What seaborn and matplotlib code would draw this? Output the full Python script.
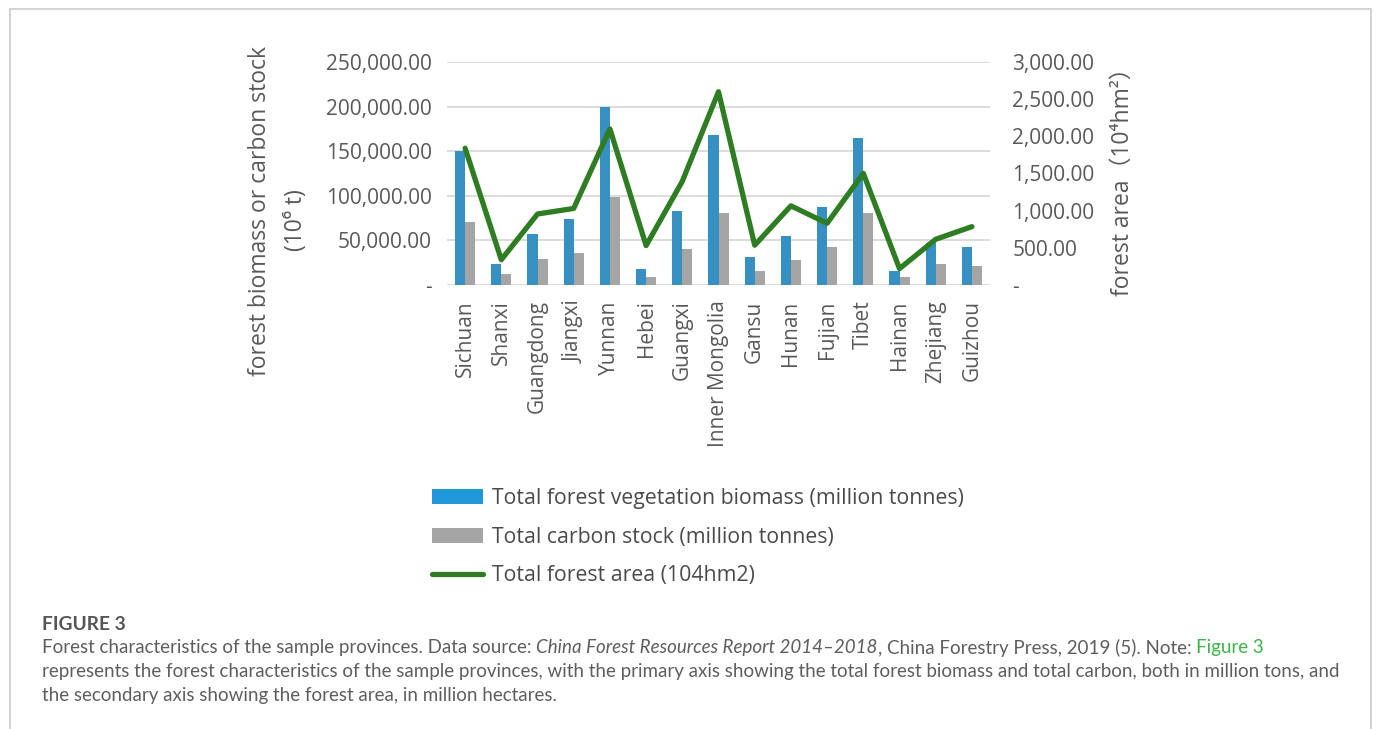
import numpy as np
import pandas as pd
import matplotlib
matplotlib.use("Agg")
import matplotlib.pyplot as plt
import seaborn as sns
from matplotlib.patches import Patch
from matplotlib.lines import Line2D

# ---------------- data ----------------
provinces = ["Sichuan", "Shanxi", "Guangdong", "Jiangxi", "Yunnan", "Hebei", "Guangxi",
             "Inner Mongolia", "Gansu", "Hunan", "Fujian", "Tibet", "Hainan", "Zhejiang", "Guizhou"]
biomass = [150200, 23200, 56800, 73600, 199500, 18300, 82600,
           167800, 31800, 54600, 87300, 164700, 16200, 47000, 43000]
carbon = [71000, 12000, 28800, 35500, 98300, 9300, 40700,
          81000, 15200, 27800, 42300, 81000, 8500, 23200, 21800]
forest_area = [1840, 340, 955, 1030, 2100, 530, 1395,
               2600, 535, 1065, 830, 1502, 220, 615, 785]

series_biomass = "Total forest vegetation biomass (million tonnes)"
series_carbon = "Total carbon stock (million tonnes)"
series_area = "Total forest area (104hm2)"

left_ticks = [0, 50000, 100000, 150000, 200000, 250000]
right_ticks = [0, 500, 1000, 1500, 2000, 2500, 3000]

# ---------------- style ----------------
W, H = 1376, 729
sns.set_style("white")
plt.rcParams["font.family"] = ["Open Sans", "Noto Sans CJK SC", "DejaVu Sans"]

BLUE = "#1f97d8"
GRAY = "#a5a5a5"
GREEN = "#2e7d22"
TXT = "#595959"

fig = plt.figure(figsize=(W / 100, H / 100), dpi=100)
fig.patch.set_facecolor("white")

def fx(px):
    return px / W

def fy(py):
    return 1 - py / H

ax_l, ax_r, ax_t, ax_b = 447, 990, 62, 285
ax = fig.add_axes([fx(ax_l), fy(ax_b), (ax_r - ax_l) / W, (ax_b - ax_t) / H])

df = pd.DataFrame({
    "province": provinces * 2,
    "value": biomass + carbon,
    "series": [series_biomass] * len(provinces) + [series_carbon] * len(provinces),
})
sns.barplot(data=df, x="province", y="value", hue="series",
            hue_order=[series_biomass, series_carbon],
            palette=[BLUE, GRAY], width=0.56, gap=0, linewidth=0,
            legend=False, ax=ax, zorder=2)

ax.set_ylim(0, 250000)
ax.set_xlim(-0.5, len(provinces) - 0.5)
ax.set_yticks(left_ticks)
ax.set_yticklabels(["-" if v == 0 else f"{v:,.2f}" for v in left_ticks])
ax.yaxis.grid(True, color="#d9d9d9", linewidth=1.3, zorder=0)
ax.set_axisbelow(True)
for s in ax.spines.values():
    s.set_visible(False)
ax.set_xlabel("")
ax.set_ylabel("")
ax.tick_params(axis="y", length=0, pad=11, labelsize=15, labelcolor=TXT)
ax.tick_params(axis="x", length=0, pad=11, labelsize=15, labelcolor=TXT)
plt.setp(ax.get_xticklabels(), rotation=90, va="top", ha="center")

ax2 = ax.twinx()
sns.lineplot(x=np.arange(len(provinces)), y=forest_area, ax=ax2, color=GREEN,
             linewidth=3.8, legend=False, sort=False)
ax2.set_ylim(0, 3000)
ax2.set_xlim(-0.5, len(provinces) - 0.5)
ax2.set_yticks(right_ticks)
ax2.set_yticklabels(["-" if v == 0 else f"{v:,.2f}" for v in right_ticks])
ax2.tick_params(axis="y", length=0, pad=16, labelsize=15, labelcolor=TXT)
ax2.set_ylabel("")
for s in ax2.spines.values():
    s.set_visible(False)

# axis titles
fig.text(fx(260), fy(211), "forest biomass or carbon stock", rotation=90,
         ha="center", va="center", fontsize=16.5, color=TXT)
fig.text(fx(296), fy(220), "(10\u2076 t)", rotation=90,
         ha="center", va="center", fontsize=16.5, color=TXT)
fig.text(fx(1123), fy(176), "forest area\uff0810\u2074hm\u00b2\uff09", rotation=90,
         ha="center", va="center", fontsize=16.5, color=TXT)

# legend
handles = [Patch(facecolor=BLUE, edgecolor="none"),
           Patch(facecolor=GRAY, edgecolor="none"),
           Line2D([0], [0], color=GREEN, linewidth=3.8)]
fig.legend(handles, [series_biomass, series_carbon, series_area],
           loc="upper left", bbox_to_anchor=(fx(432), fy(488)),
           frameon=False, fontsize=15.3, handlelength=2.4, handleheight=0.72,
           handletextpad=0.43, labelspacing=0.83, borderpad=0, borderaxespad=0,
           labelcolor="#4a4a4a")

# frame
frame_col = "#d3d3d3"
fig.add_artist(Line2D([fx(9.5), fx(9.5)], [fy(729), fy(8.5)], color=frame_col, lw=1.5,
                      transform=fig.transFigure))
fig.add_artist(Line2D([fx(9.5), fx(1370.5)], [fy(8.5), fy(8.5)], color=frame_col, lw=1.5,
                      transform=fig.transFigure))
fig.add_artist(Line2D([fx(1370.5), fx(1370.5)], [fy(8.5), fy(729)], color=frame_col, lw=1.5,
                      transform=fig.transFigure))

# caption
renderer = fig.canvas.get_renderer()
CAP_FONT = ["Lato", "DejaVu Sans"]
cap_col = "#5e5e5e"
line2 = ("represents the forest characteristics of the sample provinces, with the primary axis "
         "showing the total forest biomass and total carbon, both in million tons, and")
line3 = "the secondary axis showing the forest area, in million hectares."
probe = fig.text(0, 0, line2, fontsize=12, family=CAP_FONT)
wpx = probe.get_window_extent(renderer).width
probe.remove()
cap_size = 12 * (1337 - 42) / wpx

fig.text(fx(42), fy(625), "FIGURE 3", fontsize=cap_size * 1.02, family=CAP_FONT,
         fontweight="bold", color="#555555", ha="left", va="center")

runs = [("Forest characteristics of the sample provinces. Data source:\u00a0", {}),
        ("China Forest Resources Report 2014\u20132018", {"style": "italic"}),
        (", China Forestry Press, 2019 (5). Note:\u00a0", {}),
        ("Figure 3", {"color": "#3db449"})]
x = 42
for txt, kw in runs:
    col = kw.pop("color", cap_col)
    t = fig.text(fx(x), fy(648), txt, fontsize=cap_size, family=CAP_FONT, color=col,
                 ha="left", va="center", **kw)
    x += t.get_window_extent(renderer).width
fig.text(fx(42), fy(672), line2, fontsize=cap_size, family=CAP_FONT, color=cap_col,
         ha="left", va="center")
fig.text(fx(42), fy(696), line3, fontsize=cap_size, family=CAP_FONT, color=cap_col,
         ha="left", va="center")

fig.savefig("out.png", dpi=100)
